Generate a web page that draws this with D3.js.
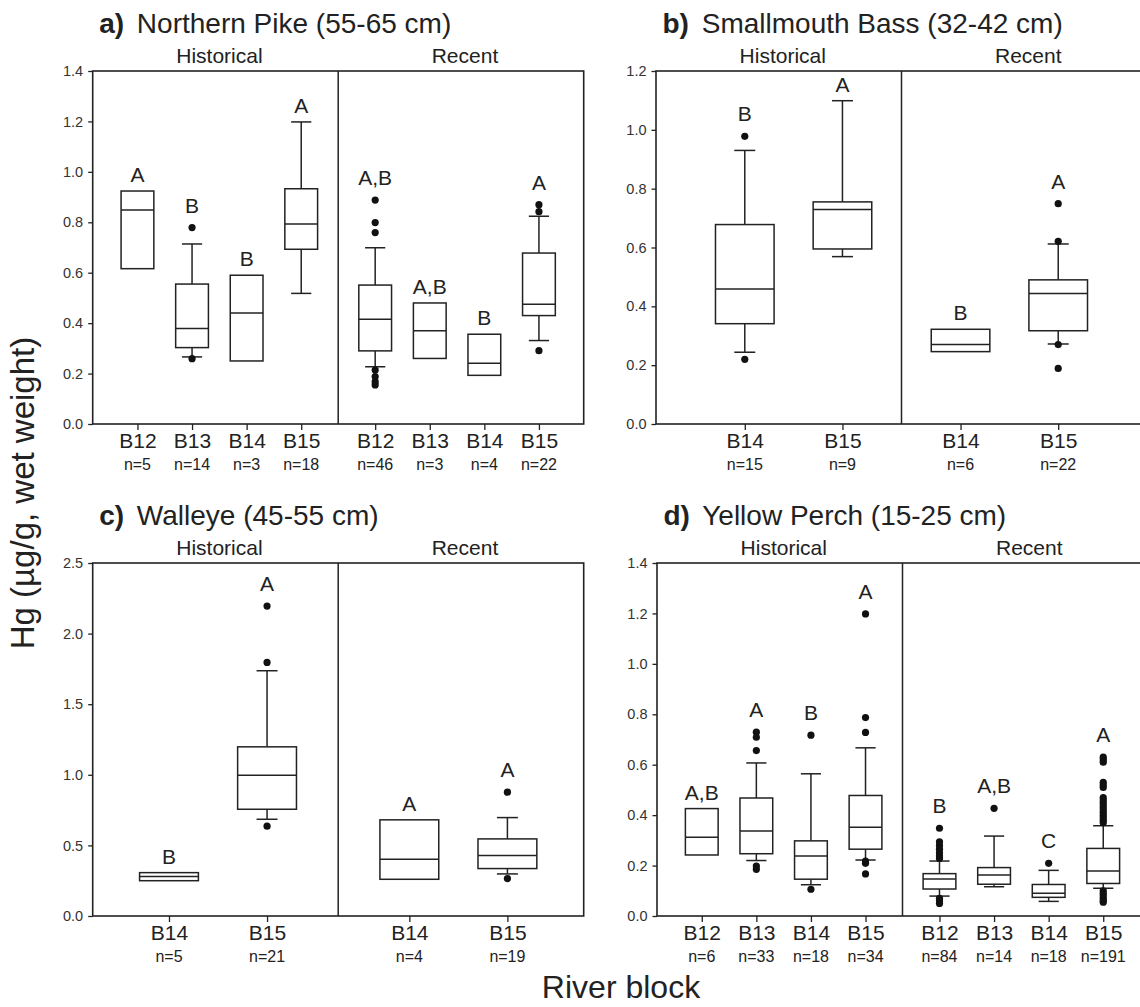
<!DOCTYPE html>
<html>
<head>
<meta charset="utf-8">
<style>
  body { margin: 0; background: #fff; }
  svg, svg text { font-family: Arial, 'Liberation Sans', Helvetica, sans-serif; }
  .y .domain { display: none; }
  .y .tick line { stroke: #222; stroke-width: 1.3px; }
  .y .tick text { font-size: 14.5px; fill: #333; font-family: Arial, 'Liberation Sans', sans-serif; }
  .x .domain { display: none; }
  .x .tick line { stroke: #222; stroke-width: 1.3px; }
  .x .tick text { font-size: 21px; fill: #222; font-family: Arial, 'Liberation Sans', sans-serif; }
</style>
</head>
<body>
<svg width="1140" height="1007"></svg>

<script src="https://d3js.org/d3.v7.min.js"></script>
<script>
// ---- data ----
const panelTags = ["a)", "b)", "c)", "d)"];
const panelTitles = ["Northern Pike (55-65 cm)", "Smallmouth Bass (32-42 cm)", "Walleye (45-55 cm)", "Yellow Perch (15-25 cm)"];
const periods = ["Historical", "Recent"];

// box rows: [lower whisker, q1, median, q3, upper whisker]
const pikeBlocks = ["B12", "B13", "B14", "B15", "B12", "B13", "B14", "B15"];
const pikeN = [5, 14, 3, 18, 46, 3, 4, 22];
const pikeLetters = ["A", "B", "B", "A", "A,B", "A,B", "B", "A"];
const pikeBoxes = [
  [null, 0.616, 0.849, 0.924, null],
  [0.266, 0.303, 0.379, 0.555, 0.714],
  [null, 0.250, 0.440, 0.590, null],
  [0.518, 0.693, 0.793, 0.933, 1.198],
  [0.227, 0.290, 0.415, 0.551, 0.699],
  [null, 0.260, 0.370, 0.480, null],
  [null, 0.193, 0.241, 0.356, null],
  [0.331, 0.430, 0.475, 0.678, 0.824]
];
const pikeOutliers = [[], [0.779, 0.259], [], [], [0.888, 0.799, 0.759, 0.214, 0.188, 0.168, 0.155], [], [], [0.870, 0.842, 0.291]];
const pikeTicks = [0, 0.2, 0.4, 0.6, 0.8, 1.0, 1.2, 1.4];

const bassBlocks = ["B14", "B15", "B14", "B15"];
const bassN = [15, 9, 6, 22];
const bassLetters = ["B", "A", "B", "A"];
const bassBoxes = [
  [0.244, 0.341, 0.459, 0.678, 0.930],
  [0.569, 0.595, 0.729, 0.755, 1.099],
  [null, 0.246, 0.270, 0.322, null],
  [0.272, 0.317, 0.444, 0.490, 0.612]
];
const bassOutliers = [[0.978, 0.220], [], [], [0.749, 0.621, 0.270, 0.189]];
const bassTicks = [0, 0.2, 0.4, 0.6, 0.8, 1.0, 1.2];

const walleyeBlocks = ["B14", "B15", "B14", "B15"];
const walleyeN = [5, 21, 4, 19];
const walleyeLetters = ["B", "A", "A", "A"];
const walleyeBoxes = [
  [null, 0.250, 0.279, 0.307, null],
  [0.685, 0.756, 0.997, 1.198, 1.737],
  [null, 0.260, 0.402, 0.681, null],
  [0.298, 0.336, 0.428, 0.546, 0.697]
];
const walleyeOutliers = [[], [2.195, 1.796, 0.636], [], [0.877, 0.265]];
const walleyeTicks = [0, 0.5, 1.0, 1.5, 2.0, 2.5];

const perchBlocks = ["B12", "B13", "B14", "B15", "B12", "B13", "B14", "B15"];
const perchN = [6, 33, 18, 34, 84, 14, 18, 191];
const perchLetters = ["A,B", "A", "B", "A", "B", "A,B", "C", "A"];
const perchBoxes = [
  [null, 0.242, 0.312, 0.426, null],
  [0.220, 0.247, 0.337, 0.468, 0.607],
  [0.124, 0.146, 0.238, 0.298, 0.564],
  [0.222, 0.265, 0.352, 0.478, 0.667],
  [0.079, 0.107, 0.147, 0.168, 0.218],
  [0.116, 0.126, 0.163, 0.192, 0.317],
  [0.058, 0.074, 0.090, 0.125, 0.181],
  [0.110, 0.129, 0.178, 0.268, 0.358]
];
const perchOutliers = [
  [],
  [0.729, 0.709, 0.656, 0.198, 0.185],
  [0.717, 0.106],
  [1.198, 0.787, 0.728, 0.218, 0.209, 0.167],
  [0.348, 0.294, 0.280, 0.265, 0.250, 0.238, 0.228, 0.070, 0.060, 0.050],
  [0.427],
  [0.209],
  [0.63, 0.62, 0.61, 0.53, 0.52, 0.51, 0.47, 0.46, 0.45, 0.44, 0.43, 0.42, 0.41, 0.40, 0.39, 0.38, 0.37, 0.10, 0.09, 0.08, 0.07, 0.06, 0.055]
];
const perchTicks = [0, 0.2, 0.4, 0.6, 0.8, 1.0, 1.2, 1.4];

// ---- layout ----
let svg = d3.select("svg");
let pw = 491, ph = 353;
let ink = "#222";

let panels = [
  { left: 92.7, top: 71, pad: 0.82, gap: 1.355, blocks: pikeBlocks, n: pikeN, letters: pikeLetters, boxes: pikeBoxes, outliers: pikeOutliers, ticks: pikeTicks },
  { left: 656, top: 71, pad: 0.909, gap: 1.209, blocks: bassBlocks, n: bassN, letters: bassLetters, boxes: bassBoxes, outliers: bassOutliers, ticks: bassTicks },
  { left: 92.7, top: 563, pad: 0.778, gap: 1.451, blocks: walleyeBlocks, n: walleyeN, letters: walleyeLetters, boxes: walleyeBoxes, outliers: walleyeOutliers, ticks: walleyeTicks },
  { left: 657, top: 563, pad: 0.82, gap: 1.355, blocks: perchBlocks, n: perchN, letters: perchLetters, boxes: perchBoxes, outliers: perchOutliers, ticks: perchTicks }
];

panels.forEach(function (p, pi) {
  let half = p.blocks.length / 2;
  let slot = function (i) { return i < half ? i : i - 1 + p.gap; };
  let last = slot(p.blocks.length - 1);

  let x = d3.scaleLinear()
    .domain([-p.pad, last + p.pad])
    .range([p.left, p.left + pw]);

  let y = d3.scaleLinear()
    .domain([0, d3.max(p.ticks)])
    .range([p.top + ph, p.top]);

  let step = x(1) - x(0);
  let boxW = step * 0.6;
  let capW = Math.min(21, step * 0.37);
  let mid = p.left + pw / 2;

  let g = svg.append("g");

  // title
  let title = g.append("text")
    .attr("x", p.left + 6.5)
    .attr("y", p.top - 38)
    .style("font-size", "28px")
    .style("fill", ink);
  title.append("tspan").style("font-weight", "bold").text(panelTags[pi]);
  title.append("tspan").attr("dx", 5).text(" " + panelTitles[pi]);

  // period labels
  g.selectAll(".period")
    .data(periods)
    .join("text")
    .attr("class", "period")
    .attr("x", (d, i) => (i == 0 ? (p.left + mid) / 2 : (mid + p.left + pw) / 2) + 4)
    .attr("y", p.top - 8)
    .attr("text-anchor", "middle")
    .style("font-size", "21px")
    .style("fill", ink)
    .text(d => d);

  // y axis
  g.append("g")
    .attr("class", "y axis")
    .attr("transform", `translate(${p.left},0)`)
    .call(d3.axisLeft(y).tickValues(p.ticks).tickSize(4.5).tickPadding(5).tickFormat(d3.format(".1f")));

  // x axis (ticks at categories)
  let idx = d3.range(p.blocks.length);
  g.append("g")
    .attr("class", "x axis")
    .attr("transform", `translate(0,${p.top + ph})`)
    .call(d3.axisBottom(x).tickValues(idx.map(slot)).tickSize(6).tickPadding(3)
      .tickFormat((d, i) => p.blocks[i]));

  g.selectAll(".ncount")
    .data(p.n)
    .join("text")
    .attr("class", "ncount")
    .attr("x", (d, i) => x(slot(i)))
    .attr("y", p.top + ph + 46)
    .attr("text-anchor", "middle")
    .style("font-size", "16px")
    .style("fill", ink)
    .text(d => "n=" + d);

  // frame and divider
  g.append("rect")
    .attr("x", p.left).attr("y", p.top)
    .attr("width", pw).attr("height", ph)
    .style("fill", "none").style("stroke", ink).style("stroke-width", "1.6px");
  g.append("line")
    .attr("x1", mid).attr("x2", mid)
    .attr("y1", p.top).attr("y2", p.top + ph)
    .style("stroke", ink).style("stroke-width", "1.5px");

  // boxes
  let box = g.selectAll(".box")
    .data(p.boxes)
    .join("g")
    .attr("class", "box")
    .attr("transform", (d, i) => `translate(${x(slot(i))},0)`);

  box.each(function (d, i) {
    let b = d3.select(this);
    let [lo, q1, med, q3, hi] = d;
    let line = (x1, y1, x2, y2) => b.append("line")
      .attr("x1", x1).attr("y1", y1).attr("x2", x2).attr("y2", y2)
      .style("stroke", ink).style("stroke-width", "1.5px");
    if (hi != null) {
      line(0, y(q3), 0, y(hi));
      line(-capW / 2, y(hi), capW / 2, y(hi));
    }
    if (lo != null) {
      line(0, y(q1), 0, y(lo));
      line(-capW / 2, y(lo), capW / 2, y(lo));
    }
    b.append("rect")
      .attr("x", -boxW / 2).attr("width", boxW)
      .attr("y", y(q3)).attr("height", y(q1) - y(q3))
      .style("fill", "#fff").style("stroke", ink).style("stroke-width", "1.5px");
    line(-boxW / 2, y(med), boxW / 2, y(med));

    b.selectAll("circle")
      .data(p.outliers[i])
      .join("circle")
      .attr("cx", 0)
      .attr("cy", v => y(v))
      .attr("r", 3.6)
      .style("fill", "#111");

    let outs = p.outliers[i];
    let topV = d3.max([q3, hi, d3.max(outs)].filter(v => v != null));
    let hasOut = outs.length > 0 && d3.max(outs) >= topV;
    b.append("text")
      .attr("x", 0)
      .attr("y", y(topV) - (hasOut ? 15 : 9))
      .attr("text-anchor", "middle")
      .style("font-size", "21px")
      .style("fill", ink)
      .text(p.letters[i]);
  });
});

// shared axis titles
svg.append("text")
  .attr("transform", "translate(34,493) rotate(-90)")
  .attr("text-anchor", "middle")
  .style("font-size", "33px")
  .style("fill", ink)
  .text("Hg (µg/g, wet weight)");

svg.append("text")
  .attr("x", 621)
  .attr("y", 998)
  .attr("text-anchor", "middle")
  .style("font-size", "32px")
  .style("fill", ink)
  .text("River block");
</script>
</body>
</html>
